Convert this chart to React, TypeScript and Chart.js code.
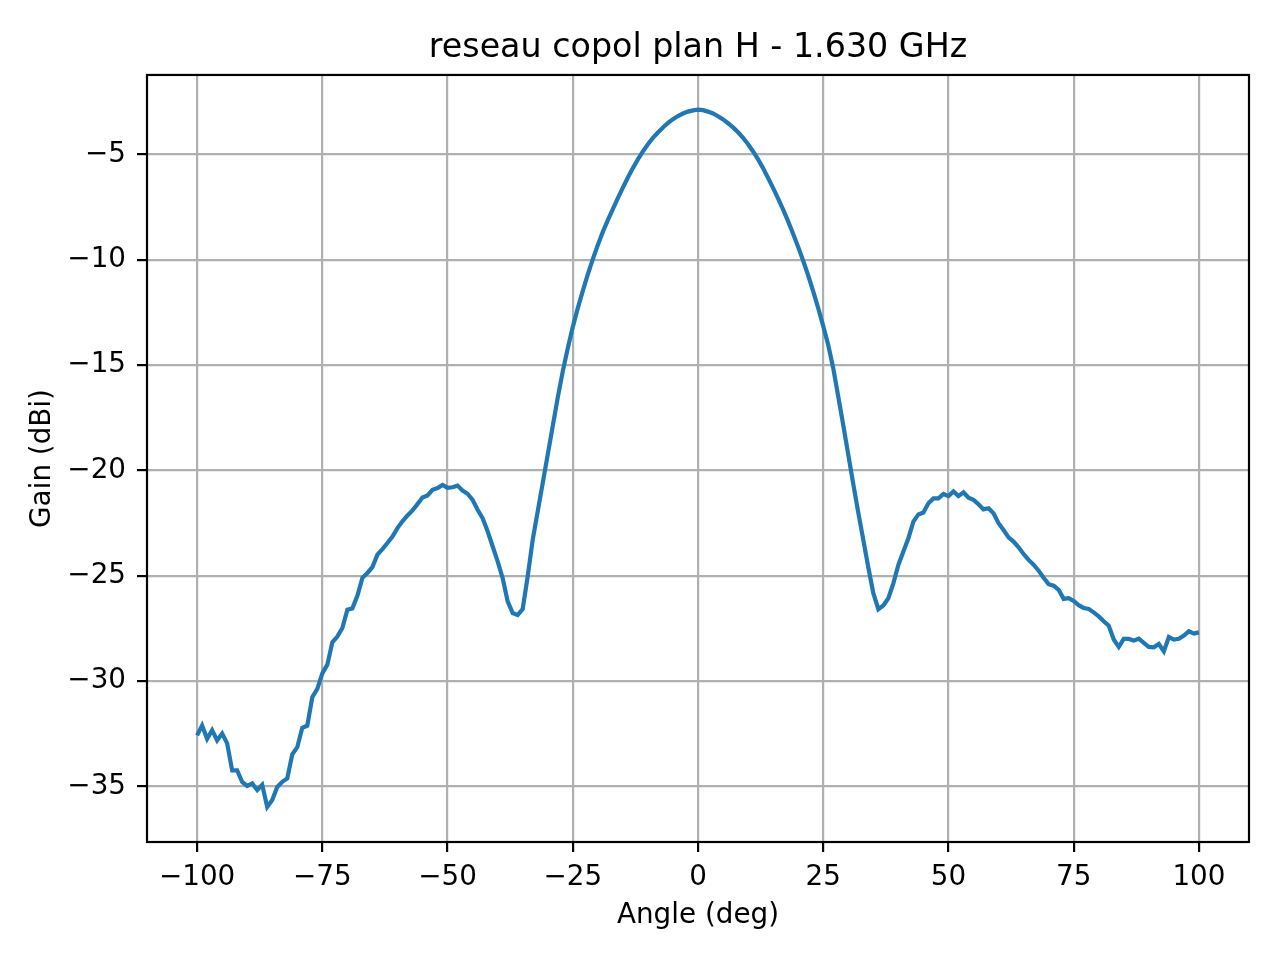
import { useEffect, useRef } from "react"
import { Chart, type ChartConfiguration, type Plugin, registerables } from "chart.js"

Chart.register(...registerables)

const TITLE = "reseau copol plan H - 1.630 GHz"
const X_LABEL = "Angle (deg)"
const Y_LABEL = "Gain (dBi)"

// measured angles, 1 deg step
const angles = [
  -100, -99, -98, -97, -96, -95, -94, -93, -92, -91,
  -90, -89, -88, -87, -86, -85, -84, -83, -82, -81,
  -80, -79, -78, -77, -76, -75, -74, -73, -72, -71,
  -70, -69, -68, -67, -66, -65, -64, -63, -62, -61,
  -60, -59, -58, -57, -56, -55, -54, -53, -52, -51,
  -50, -49, -48, -47, -46, -45, -44, -43, -42, -41,
  -40, -39, -38, -37, -36, -35, -34, -33, -32, -31,
  -30, -29, -28, -27, -26, -25, -24, -23, -22, -21,
  -20, -19, -18, -17, -16, -15, -14, -13, -12, -11,
  -10, -9, -8, -7, -6, -5, -4, -3, -2, -1,
  0, 1, 2, 3, 4, 5, 6, 7, 8, 9,
  10, 11, 12, 13, 14, 15, 16, 17, 18, 19,
  20, 21, 22, 23, 24, 25, 26, 27, 28, 29,
  30, 31, 32, 33, 34, 35, 36, 37, 38, 39,
  40, 41, 42, 43, 44, 45, 46, 47, 48, 49,
  50, 51, 52, 53, 54, 55, 56, 57, 58, 59,
  60, 61, 62, 63, 64, 65, 66, 67, 68, 69,
  70, 71, 72, 73, 74, 75, 76, 77, 78, 79,
  80, 81, 82, 83, 84, 85, 86, 87, 88, 89,
  90, 91, 92, 93, 94, 95, 96, 97, 98, 99,
  100,
]

// gain in dBi, one value per angle
const gain = [
  -32.58, -32.11, -32.74, -32.33, -32.82, -32.49, -32.96, -34.24, -34.24, -34.79,
  -34.98, -34.86, -35.17, -34.92, -35.98, -35.65, -35.03, -34.78, -34.62, -33.48,
  -33.14, -32.22, -32.12, -30.77, -30.37, -29.64, -29.22, -28.16, -27.89, -27.48,
  -26.61, -26.55, -25.95, -25.1, -24.87, -24.59, -24.0, -23.74, -23.45, -23.14,
  -22.74, -22.42, -22.14, -21.9, -21.6, -21.29, -21.19, -20.92, -20.84, -20.69,
  -20.83, -20.8, -20.72, -20.96, -21.11, -21.4, -21.87, -22.27, -22.89, -23.6,
  -24.32, -25.11, -26.22, -26.77, -26.86, -26.58, -25.03, -23.3, -21.95, -20.6,
  -19.25, -17.9, -16.55, -15.3, -14.2, -13.2, -12.3, -11.48, -10.7, -9.97,
  -9.3, -8.68, -8.12, -7.6, -7.08, -6.58, -6.1, -5.65, -5.24, -4.86,
  -4.52, -4.22, -3.96, -3.72, -3.51, -3.33, -3.18, -3.06, -2.97, -2.91,
  -2.88, -2.9, -2.97, -3.06, -3.19, -3.34, -3.52, -3.72, -3.95, -4.21,
  -4.52, -4.86, -5.24, -5.66, -6.12, -6.6, -7.1, -7.62, -8.18, -8.78,
  -9.4, -10.05, -10.75, -11.5, -12.3, -13.15, -14.05, -15.15, -16.5, -17.85,
  -19.25, -20.65, -22.0, -23.3, -24.6, -25.83, -26.59, -26.41, -26.07, -25.36,
  -24.49, -23.85, -23.22, -22.43, -22.09, -22.0, -21.56, -21.33, -21.33, -21.12,
  -21.22, -21.0, -21.22, -21.04, -21.3, -21.4, -21.61, -21.85, -21.8, -22.04,
  -22.51, -22.83, -23.18, -23.38, -23.65, -23.97, -24.25, -24.48, -24.76, -25.1,
  -25.4, -25.47, -25.67, -26.1, -26.07, -26.2, -26.4, -26.53, -26.58, -26.74,
  -26.93, -27.16, -27.37, -28.03, -28.38, -28.0, -28.0, -28.08, -27.99, -28.19,
  -28.38, -28.4, -28.24, -28.59, -27.91, -28.03, -27.99, -27.84, -27.64, -27.75,
  -27.69,
]

const xTicks = [-100, -75, -50, -25, 0, 25, 50, 75, 100]
const yTicks = [-35, -30, -25, -20, -15, -10, -5]

const FONT = "'DejaVu Sans', sans-serif"
const minus = (v: number) => String(v).replace("-", "\u2212")

// black box around the plot area, like matplotlib spines
const frame: Plugin = {
  id: "frame",
  afterDatasetsDraw(chart) {
    const { ctx, chartArea: a } = chart
    ctx.save()
    ctx.strokeStyle = "#000000"
    ctx.lineWidth = 2.2
    ctx.strokeRect(a.left, a.top, a.right - a.left, a.bottom - a.top)
    ctx.restore()
  },
}

export default function App() {
  const chartRef = useRef<HTMLCanvasElement>(null)
  const chartInstance = useRef<Chart | null>(null)

  useEffect(() => {
    if (!chartRef.current) return
    if (chartInstance.current) chartInstance.current.destroy()
    const ctx = chartRef.current.getContext("2d")
    if (!ctx) return

    const grid = {
      color: "#b0b0b0",
      lineWidth: 2.2,
      drawTicks: true,
      tickLength: 10,
      tickColor: "#000000",
      tickWidth: 2.2,
    }

    const config: ChartConfiguration<"line"> = {
      type: "line",
      data: {
        datasets: [
          {
            data: angles.map((a, i) => ({ x: a, y: gain[i] })),
            borderColor: "#1f77b4",
            borderWidth: 4.2,
            pointRadius: 0,
            tension: 0,
            fill: false,
          },
        ],
      },
      options: {
        responsive: true,
        maintainAspectRatio: false,
        animation: false,
        layout: { padding: { left: 0, right: 31, top: 0, bottom: 0 } },
        plugins: {
          legend: { display: false },
          tooltip: { enabled: false },
          title: {
            display: true,
            fullSize: false,
            text: TITLE,
            color: "#000000",
            font: { family: FONT, size: 33.3, weight: "normal", lineHeight: 1.2 },
            padding: { top: 28, bottom: 7 },
          },
        },
        scales: {
          x: {
            type: "linear",
            min: -110,
            max: 110,
            grid,
            border: { display: false },
            afterBuildTicks: (s) => {
              s.ticks = xTicks.map((v) => ({ value: v }))
            },
            afterFit: (s) => {
              s.height = 118
            },
            ticks: {
              color: "#000000",
              padding: 9,
              maxRotation: 0,
              autoSkip: false,
              font: { family: FONT, size: 27.8 },
              callback: (v) => minus(Number(v)),
            },
            title: {
              display: true,
              text: X_LABEL,
              color: "#000000",
              font: { family: FONT, size: 27.8, lineHeight: 1.2 },
              padding: { top: 0, bottom: 28 },
            },
          },
          y: {
            type: "linear",
            min: -37.64,
            max: -1.23,
            grid,
            border: { display: false },
            afterBuildTicks: (s) => {
              s.ticks = yTicks.map((v) => ({ value: v }))
            },
            afterFit: (s) => {
              s.width = 147
            },
            ticks: {
              color: "#000000",
              padding: 11,
              autoSkip: false,
              font: { family: FONT, size: 27.8 },
              callback: (v) => minus(Number(v)),
            },
            title: {
              display: true,
              text: Y_LABEL,
              color: "#000000",
              font: { family: FONT, size: 27.8, lineHeight: 1.2 },
              padding: { top: 26, bottom: 0 },
            },
          },
        },
      },
      plugins: [frame],
    }

    chartInstance.current = new Chart(ctx, config)

    return () => {
      if (chartInstance.current) {
        chartInstance.current.destroy()
        chartInstance.current = null
      }
    }
  }, [])

  return (
    <div style={{ position: "absolute", left: 0, top: 0, width: 1280, height: 960, background: "#ffffff" }}>
      <canvas ref={chartRef} />
    </div>
  )
}
